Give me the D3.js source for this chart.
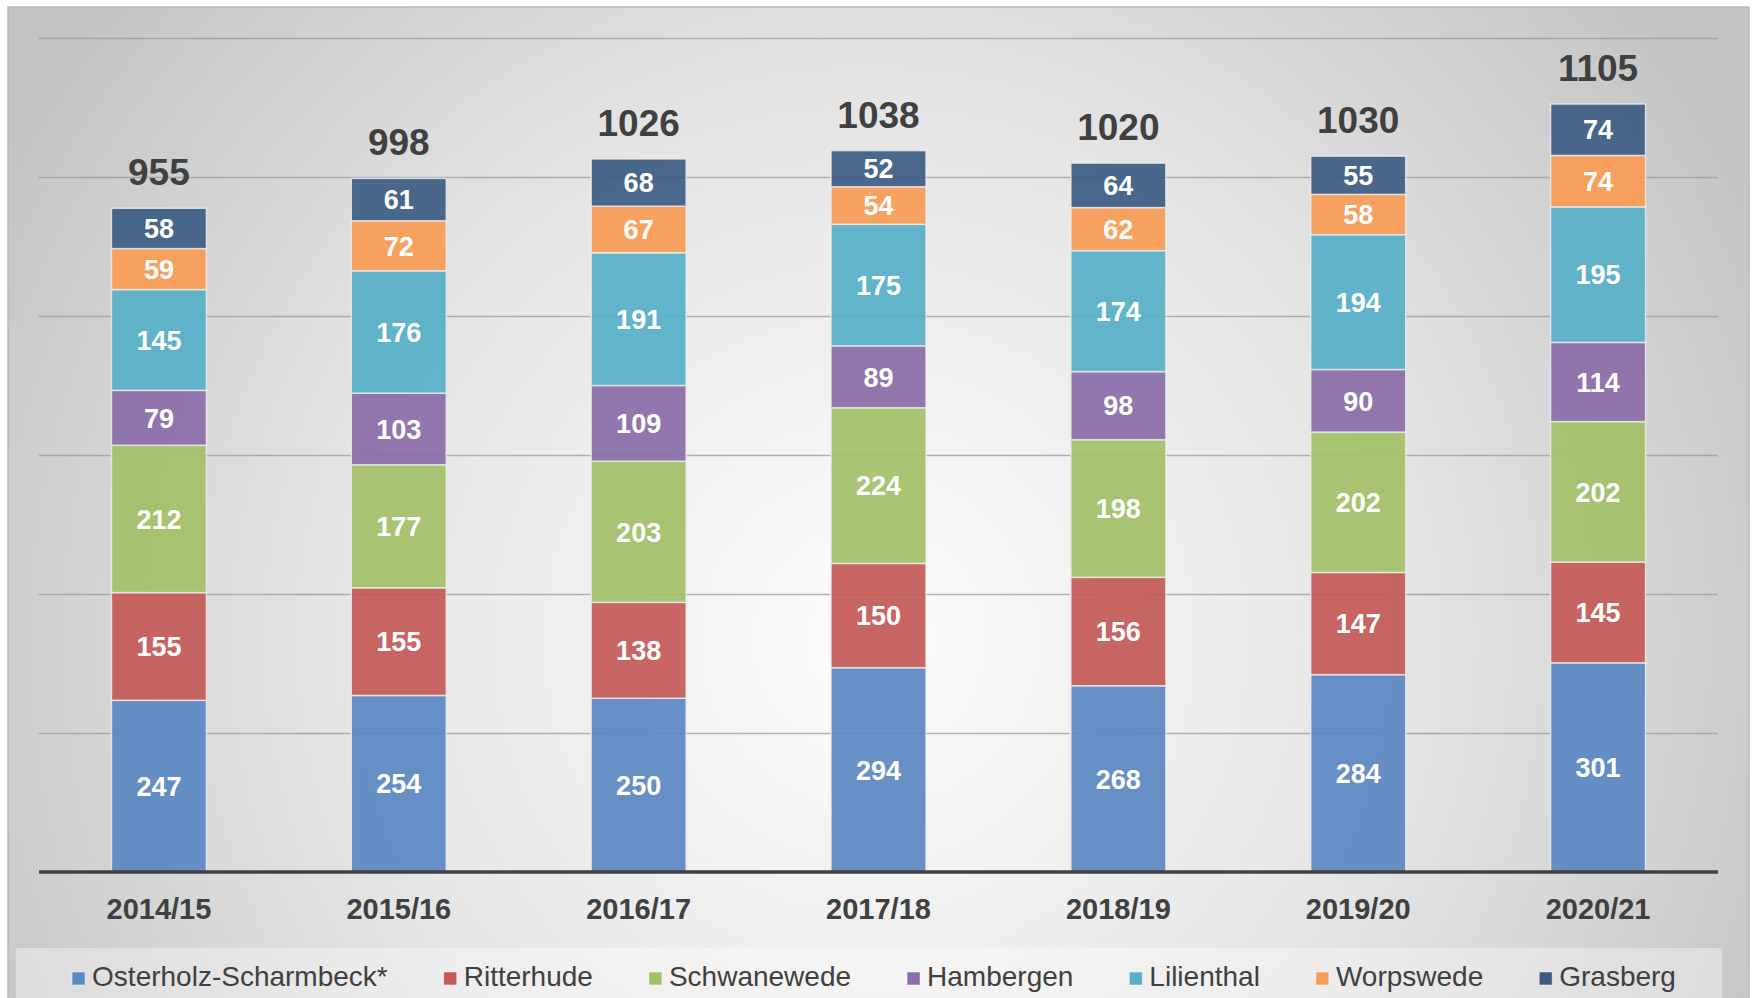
<!DOCTYPE html>
<html>
<head>
<meta charset="utf-8">
<script src="https://cdn.jsdelivr.net/npm/d3@7"></script>
<style>
  body { margin: 0; background: #fff; }
  svg text { font-family: "Liberation Sans", Arial, sans-serif; }
</style>
</head>
<body>
<div id="stackedChart"></div>
<script>
const years = ["2014/15", "2015/16", "2016/17", "2017/18", "2018/19", "2019/20", "2020/21"];
const towns = ["Osterholz-Scharmbeck*", "Ritterhude", "Schwanewede", "Hambergen", "Lilienthal", "Worpswede", "Grasberg"];
const osterholz   = [247, 254, 250, 294, 268, 284, 301];
const ritterhude  = [155, 155, 138, 150, 156, 147, 145];
const schwanewede = [212, 177, 203, 224, 198, 202, 202];
const hambergen   = [79, 103, 109, 89, 98, 90, 114];
const lilienthal  = [145, 176, 191, 175, 174, 194, 195];
const worpswede   = [59, 72, 67, 54, 62, 58, 74];
const grasberg    = [58, 61, 68, 52, 64, 55, 74];
const yTicks = [200, 400, 600, 800, 1000, 1200];

const series = [osterholz, ritterhude, schwanewede, hambergen, lilienthal, worpswede, grasberg];
const colors = ["#5b89c2", "#c45a58", "#a2c068", "#8a6ea9", "#57afc8", "#f79c55", "#3d5c84"];

var width = 1753, height = 998;
var margin = {top: 38, right: 35, bottom: 126, left: 39};
var innerwidth = width - margin.left - margin.right;
var innerheight = height - margin.top - margin.bottom;

const svg = d3.select("#stackedChart")
    .append("svg")
    .attr("width", width)
    .attr("height", height);

// panel background
var defs = svg.append("defs");
var bg = defs.append("radialGradient")
    .attr("id", "bg")
    .attr("gradientUnits", "userSpaceOnUse")
    .attr("cx", 870).attr("cy", 640).attr("r", 1000);
bg.append("stop").attr("offset", "0%").attr("stop-color", "#fdfdfd");
bg.append("stop").attr("offset", "55%").attr("stop-color", "#e4e4e4");
bg.append("stop").attr("offset", "100%").attr("stop-color", "#c4c4c4");

svg.append("rect")
    .attr("x", 8).attr("y", 7)
    .attr("width", 1741).attr("height", 1000)
    .attr("fill", "url(#bg)")
    .attr("stroke", "#b8b8b8")
    .attr("stroke-width", 1.5);

// legend box
svg.append("rect")
    .attr("x", 16).attr("y", 948)
    .attr("width", 1706).attr("height", 60)
    .attr("fill", "#fff")
    .attr("fill-opacity", 0.35);

const g = svg.append("g")
    .attr("transform", "translate(" + margin.left + "," + margin.top + ")");

const xscale = d3.scaleBand()
    .domain(years)
    .range([0, innerwidth])
    .paddingInner(0.604)
    .paddingOuter(0.302);

const yscale = d3.scaleLinear()
    .domain([0, 1200])
    .range([innerheight, 0]);

// gridlines
const yaxisG = g.append("g")
    .call(d3.axisLeft(yscale).tickValues(yTicks).tickSize(-innerwidth).tickFormat(""));
yaxisG.select(".domain").remove();
yaxisG.selectAll(".tick line")
    .attr("stroke", "#9a9a9a")
    .attr("stroke-width", 1.5)
    .attr("stroke-opacity", 0.75);

// stack the towns
const table = years.map((y, i) => {
    var row = {year: y};
    towns.forEach((t, j) => { row[t] = series[j][i]; });
    return row;
});
const stacked = d3.stack().keys(towns)(table);

const layers = g.selectAll(".layer")
    .data(stacked)
    .enter()
    .append("g")
    .attr("fill", (d, i) => colors[i]);

layers.selectAll("rect")
    .data(d => d)
    .enter()
    .append("rect")
    .attr("x", d => xscale(d.data.year))
    .attr("y", d => yscale(d[1]))
    .attr("width", xscale.bandwidth())
    .attr("height", d => yscale(d[0]) - yscale(d[1]))
    .attr("fill-opacity", 0.93)
    .attr("stroke", "#eeeeee")
    .attr("stroke-opacity", 0.8)
    .attr("stroke-width", 1.5);

layers.selectAll("text")
    .data(d => d)
    .enter()
    .append("text")
    .attr("x", d => xscale(d.data.year) + xscale.bandwidth() / 2)
    .attr("y", d => (yscale(d[0]) + yscale(d[1])) / 2)
    .attr("dy", "0.36em")
    .attr("text-anchor", "middle")
    .attr("font-size", "27px")
    .attr("font-weight", "bold")
    .attr("fill", "#fff")
    .text(d => d[1] - d[0]);

// totals
g.selectAll(".total")
    .data(table)
    .enter()
    .append("text")
    .attr("x", d => xscale(d.year) + xscale.bandwidth() / 2)
    .attr("y", d => yscale(d3.sum(towns, t => d[t])) - 23)
    .attr("text-anchor", "middle")
    .attr("font-size", "37px")
    .attr("font-weight", "bold")
    .attr("fill", "#404040")
    .text(d => d3.sum(towns, t => d[t]));

// x axis
g.append("line")
    .attr("x1", 0).attr("x2", innerwidth)
    .attr("y1", innerheight).attr("y2", innerheight)
    .attr("stroke", "#404040")
    .attr("stroke-width", 3.5);

const xaxisG = g.append("g")
    .attr("transform", "translate(0," + innerheight + ")")
    .call(d3.axisBottom(xscale).tickSize(0).tickPadding(0));
xaxisG.select(".domain").remove();
xaxisG.selectAll("text")
    .attr("y", 47)
    .attr("dy", 0)
    .attr("font-size", "29px")
    .attr("font-weight", "bold")
    .attr("fill", "#404040");

// legend, laid out left to right then centred in the box
const legend = svg.append("g");
var lx = 0;
towns.forEach((t, i) => {
    var item = legend.append("g").attr("transform", "translate(" + lx + ",0)");
    item.append("rect")
        .attr("x", 0).attr("y", 972)
        .attr("width", 13).attr("height", 13)
        .attr("fill", colors[i])
        .attr("stroke", "#ffffff")
        .attr("stroke-opacity", 0.5);
    var label = item.append("text")
        .attr("x", 20).attr("y", 986)
        .attr("font-size", "28px")
        .attr("fill", "#404040")
        .text(t);
    lx += 20 + label.node().getComputedTextLength() + 56;
});
lx -= 56;
legend.attr("transform", "translate(" + (874 - lx / 2) + ",0)");
</script>
</body>
</html>
